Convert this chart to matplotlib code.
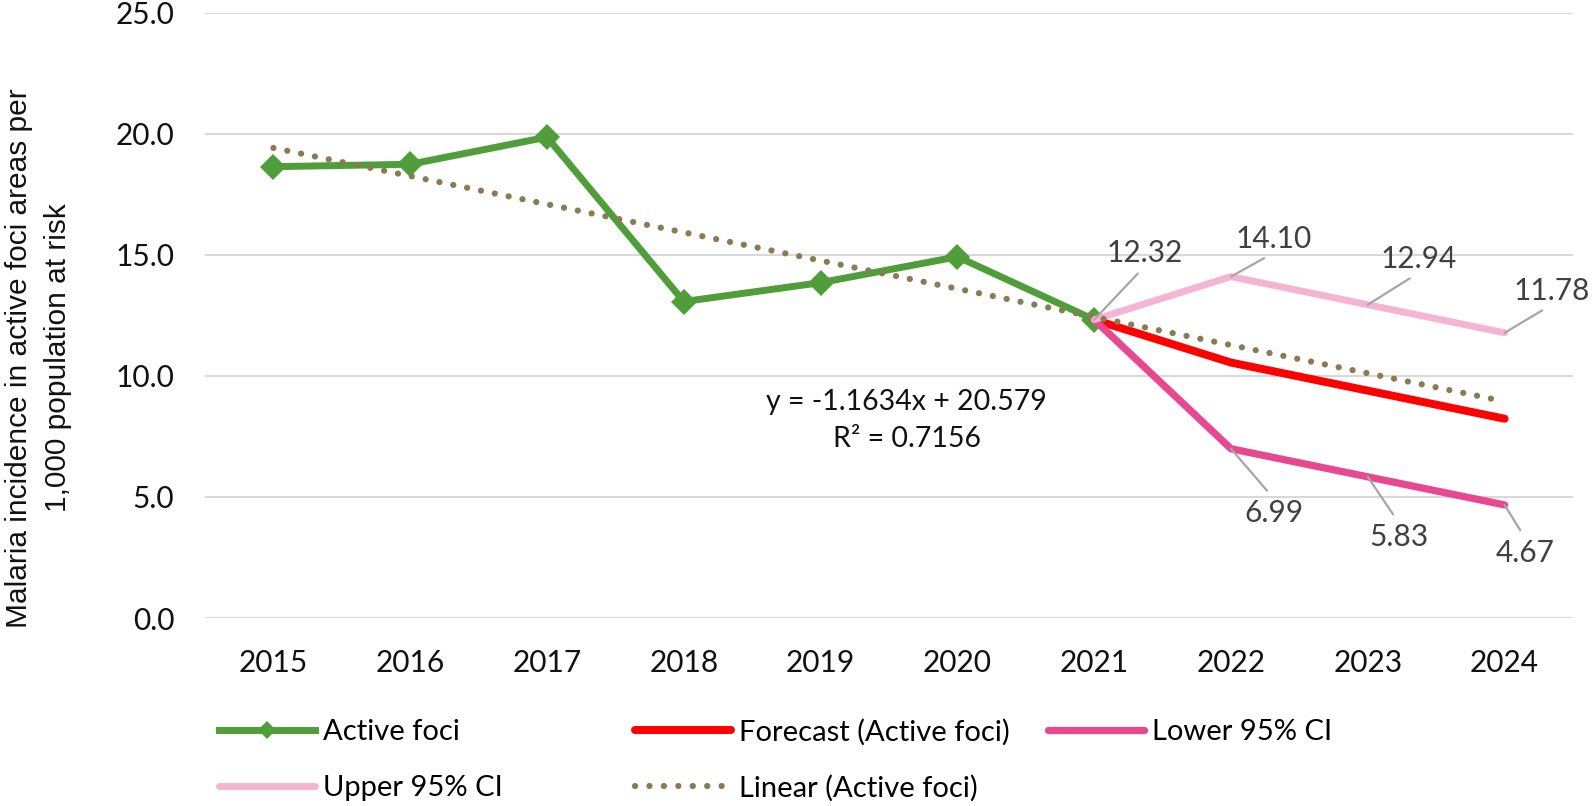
import numpy as np
import matplotlib.pyplot as plt
from matplotlib.lines import Line2D

# data
years = ['2015', '2016', '2017', '2018', '2019', '2020', '2021', '2022', '2023', '2024']
active_foci = [18.64, 18.74, 19.86, 13.07, 13.85, 14.92, 12.32]
forecast_years = ['2021', '2022', '2023', '2024']
forecast = [12.32, 10.55, 9.39, 8.23]
lower_ci = [12.32, 6.99, 5.83, 4.67]
upper_ci = [12.32, 14.10, 12.94, 11.78]
trend_slope, trend_intercept, trend_r2 = -1.1634, 20.579, 0.7156

GREEN = '#509E3A'
RED = '#FF0000'
LOWER = '#E8488F'
UPPER = '#F4B5D3'
TREND = '#8B7B55'
LABEL = '#404040'
LEADER = '#A6A6A6'

W, H = 1594, 806
fig = plt.figure(figsize=(W / 100, H / 100), dpi=100)
ax = fig.add_axes([205 / W, (H - 618) / H, 1368 / W, 605.3 / H])

x_all = np.arange(len(years))
x_act = x_all[:len(active_foci)]
x_fc = np.array([years.index(y) for y in forecast_years])

ax.plot(x_act, active_foci, color=GREEN, lw=5, marker='D', ms=13,
        mew=0, solid_joinstyle='miter', zorder=3)
ax.plot(x_fc, forecast, color=RED, lw=5.75, solid_capstyle='round', zorder=4)
ax.plot(x_fc, lower_ci, color=LOWER, lw=5.25, solid_capstyle='round', zorder=4)
ax.plot(x_fc, upper_ci, color=UPPER, lw=5, solid_capstyle='round', zorder=4)

# Excel linear trendline, drawn from its printed equation
trend_y = trend_intercept + trend_slope * (x_all + 1)
ax.plot(x_all, trend_y, color=TREND, lw=4.5, linestyle=(0, (0.01, 2.25)),
        dash_capstyle='round', zorder=5)

ax.text(4.63, 8.15, f"y = {trend_slope}x + {trend_intercept}\nR² = {trend_r2}",
        ha='center', va='center', fontsize=20.5, family='Lato', color='#111111',
        linespacing=1.55)

# data labels with leader lines
up_off = [(50, 67), (43, 38), (51, 46), (47, 42)]
for xi, v, (dx, dy) in zip(x_fc, upper_ci, up_off):
    ax.annotate(f"{v:.2f}", xy=(xi, v), xytext=(dx, dy), textcoords='offset pixels',
                ha='center', va='center', fontsize=21.5, family='Lato', color=LABEL,
                arrowprops=dict(arrowstyle='-', color=LEADER, lw=1.6,
                                shrinkA=4, shrinkB=0, relpos=(0.5, 0)), zorder=6)
low_off = [(43, -64), (31, -60), (21, -48)]
for xi, v, (dx, dy) in zip(x_fc[1:], lower_ci[1:], low_off):
    ax.annotate(f"{v:.2f}", xy=(xi, v), xytext=(dx, dy), textcoords='offset pixels',
                ha='center', va='center', fontsize=21.5, family='Lato', color=LABEL,
                arrowprops=dict(arrowstyle='-', color=LEADER, lw=1.6,
                                shrinkA=5, shrinkB=0, relpos=(0.5, 1)), zorder=6)

ax.set_xlim(-0.5, len(years) - 0.5)
ax.set_ylim(0, 25)
ax.set_yticks(np.arange(0, 26, 5))
ax.set_yticklabels([f"{t:.1f}" for t in np.arange(0, 26, 5)])
ax.set_xticks(x_all)
ax.set_xticklabels(years)
for lab in ax.get_xticklabels() + ax.get_yticklabels():
    lab.set_family('Lato')
    lab.set_fontsize(21.5)
    lab.set_color('#111111')
ax.tick_params(axis='y', length=0, pad=22)
ax.tick_params(axis='x', length=0, pad=22.5)
ax.grid(axis='y', color='#D9D9D9', lw=1.5)
ax.set_axisbelow(True)
for s in ax.spines.values():
    s.set_visible(False)

fig.text(39 / W, 1 - 358 / H,
         "Malaria incidence in active foci areas per\n1,000 population at risk",
         rotation=90, ha='center', va='center', fontsize=21.5,
         family='Liberation Sans', linespacing=1.5, color='#111111')

# legend, laid out like Excel's: three columns, two rows
entries = [
    (Line2D([], [], color=GREEN, lw=5, marker='D', ms=9, mew=0), 'Active foci', 219, 732),
    (Line2D([], [], color=RED, lw=5.75, solid_capstyle='round'), 'Forecast (Active foci)', 635, 732),
    (Line2D([], [], color=LOWER, lw=5.25, solid_capstyle='round'), 'Lower 95% CI', 1048, 732),
    (Line2D([], [], color=UPPER, lw=5, solid_capstyle='round'), 'Upper 95% CI', 219, 788),
    (Line2D([], [], color=TREND, lw=4.5, linestyle=(0, (0.01, 2.3)), dash_capstyle='round'),
     'Linear (Active foci)', 635, 788),
]
for h, lab, px, py in entries:
    fig.legend([h], [lab], loc='center left', bbox_to_anchor=(px / W, 1 - py / H),
               frameon=False, borderpad=0, borderaxespad=0, handlelength=3.3,
               handletextpad=0.25, prop={'family': 'Lato', 'size': 21})

fig.savefig('out.png', dpi=100)
